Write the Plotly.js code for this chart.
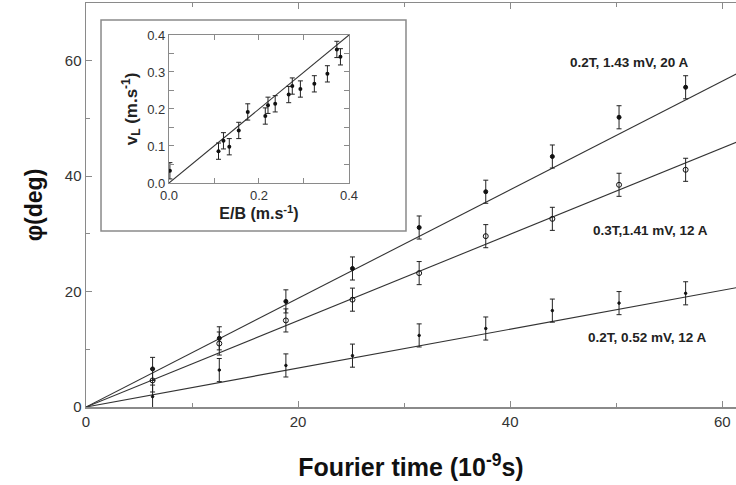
<!DOCTYPE html>
<html>
<head>
<meta charset="utf-8">
<script src="https://cdn.plot.ly/plotly-3.0.1.min.js"></script>
<style>html,body{margin:0;padding:0;background:#fff;}#chart{width:736px;height:485px;}</style>
</head>
<body>
<div id="chart"></div>
<script>
// ---- main plot data ----
var fourierTime = [6.28, 12.57, 18.85, 25.13, 31.42, 37.70, 43.98, 50.27, 56.55];
var phiA = [6.6, 11.9, 18.3, 24.0, 31.1, 37.3, 43.4, 50.2, 55.4];   // 0.2T, 1.43 mV, 20 A
var phiB = [4.6, 11.0, 15.0, 18.6, 23.2, 29.6, 32.6, 38.5, 41.1];   // 0.3T, 1.41 mV, 12 A
var phiC = [1.8, 6.4, 7.2, 8.9, 12.4, 13.6, 16.7, 18.0, 19.7];      // 0.2T, 0.52 mV, 12 A
var phiErr = 2.0;
var fitSlopes = [0.941, 0.748, 0.337];
var fitX = [0, 62];
var seriesLabels = ["0.2T, 1.43 mV, 20 A", "0.3T,1.41 mV, 12 A", "0.2T, 0.52 mV, 12 A"];
var labelX = [51.3, 53.2, 53.0];
var labelY = [59.7, 30.5, 12.1];

// ---- inset data ----
var eOverB = [0.002, 0.110, 0.121, 0.134, 0.155, 0.175, 0.214, 0.220, 0.236, 0.266, 0.274, 0.292, 0.323, 0.352, 0.373, 0.381];
var vL     = [0.033, 0.086, 0.114, 0.098, 0.142, 0.192, 0.181, 0.210, 0.214, 0.239, 0.262, 0.254, 0.268, 0.295, 0.361, 0.341];
var vLErr = 0.022;
var insetFitX = [0, 0.4];
var insetSlope = 1.0;

var mainTicks = [0, 20, 40, 60];
var insetXTicks = [0, 0.2, 0.4];
var insetXTickText = ["0.0", "0.2", "0.4"];
var insetYTicks = [0, 0.1, 0.2, 0.3, 0.4];
var insetYTickText = ["0.0", "0.1", "0.2", "0.3", "0.4"];

var lineCol = '#333';
var axCol = '#8a8a8a';
var fnt = 'Liberation Sans, Arial, sans-serif';

function errTrace(y, sym, size, name) {
  return {
    x: fourierTime, y: y, type: 'scatter', mode: 'markers', name: name,
    marker: {symbol: sym, size: size, color: '#111', line: {color: '#111', width: 1}},
    error_y: {type: 'constant', value: phiErr, color: '#222', thickness: 1, width: 2.5},
    xaxis: 'x', yaxis: 'y', showlegend: false
  };
}
var traces = [];
fitSlopes.forEach(function (s) {
  traces.push({x: fitX, y: fitX.map(function (v) { return v * s; }), type: 'scatter', mode: 'lines',
    line: {color: lineCol, width: 1.1}, xaxis: 'x', yaxis: 'y', showlegend: false, hoverinfo: 'skip'});
});
traces.push(errTrace(phiA, 'circle', 4, 'A'));
traces.push(errTrace(phiB, 'circle-open', 5, 'B'));
traces.push(errTrace(phiC, 'circle', 2.5, 'C'));

traces.push({x: insetFitX, y: insetFitX.map(function (v) { return v * insetSlope; }), type: 'scatter', mode: 'lines',
  line: {color: lineCol, width: 1.1}, xaxis: 'x2', yaxis: 'y2', showlegend: false, hoverinfo: 'skip'});
traces.push({x: eOverB, y: vL, type: 'scatter', mode: 'markers',
  marker: {symbol: 'circle', size: 4, color: '#111'},
  error_y: {type: 'constant', value: vLErr, color: '#222', thickness: 1, width: 2.5},
  xaxis: 'x2', yaxis: 'y2', showlegend: false});

var annotations = seriesLabels.map(function (t, i) {
  return {text: t, x: labelX[i], y: labelY[i], xref: 'x', yref: 'y', showarrow: false,
    font: {family: fnt, size: 13.5, color: '#222', weight: 'bold'}};
});

var layout = {
  width: 736, height: 485,
  margin: {l: 86, r: 0, t: 3, b: 78},
  paper_bgcolor: '#fff', plot_bgcolor: '#fff',
  font: {family: fnt, color: '#333'},
  xaxis: {
    domain: [0, 1], range: [0, 61.3], tickvals: mainTicks,
    ticks: 'inside', ticklen: 6, tickwidth: 1, tickcolor: axCol,
    minor: {dtick: 10, tick0: 0, ticks: 'inside', ticklen: 4, tickcolor: axCol},
    showline: true, linecolor: axCol, linewidth: 1.5, mirror: 'allticks',
    showgrid: false, zeroline: false,
    tickfont: {family: fnt, size: 15, color: '#333'},
    title: {text: 'Fourier time (10<sup>-9</sup>s)', standoff: 30,
      font: {family: fnt, size: 25, color: '#111', weight: 'bold'}}
  },
  yaxis: {
    domain: [0, 1], range: [0, 70], tickvals: mainTicks,
    ticks: 'inside', ticklen: 6, tickwidth: 1, tickcolor: axCol,
    minor: {dtick: 10, tick0: 0, ticks: 'inside', ticklen: 4, tickcolor: axCol},
    showline: true, linecolor: axCol, linewidth: 1.5, mirror: false,
    showgrid: false, zeroline: false,
    tickfont: {family: fnt, size: 15, color: '#333'},
    title: {text: 'φ(deg)', standoff: 16,
      font: {family: fnt, size: 23, color: '#111', weight: 'bold'}}
  },
  xaxis2: {
    domain: [0.1277, 0.4046], anchor: 'y2', range: [0, 0.4],
    tickvals: insetXTicks, ticktext: insetXTickText,
    ticks: 'inside', ticklen: 5, tickcolor: axCol,
    minor: {dtick: 0.1, tick0: 0, ticks: 'inside', ticklen: 5, tickcolor: axCol},
    showline: true, linecolor: axCol, linewidth: 1.2, mirror: 'allticks',
    showgrid: false, zeroline: false,
    tickfont: {family: fnt, size: 13, color: '#333'},
    title: {text: 'E/B (m.s<sup>-1</sup>)', standoff: 4,
      font: {family: fnt, size: 16, color: '#222', weight: 'bold'}}
  },
  yaxis2: {
    domain: [0.5545, 0.9208], anchor: 'x2', range: [0, 0.4],
    tickvals: insetYTicks, ticktext: insetYTickText,
    ticks: 'inside', ticklen: 5, tickcolor: axCol,
    minor: {dtick: 0.05, tick0: 0, ticks: 'inside', ticklen: 5, tickcolor: axCol},
    showline: true, linecolor: axCol, linewidth: 1.2, mirror: 'allticks',
    showgrid: false, zeroline: false,
    tickfont: {family: fnt, size: 13, color: '#333'},
    title: {text: 'v<sub>L</sub> (m.s<sup>-1</sup>)', standoff: 5,
      font: {family: fnt, size: 17, color: '#222', weight: 'bold'}}
  },
  shapes: [{type: 'rect', xref: 'paper', yref: 'paper', x0: 0.0231, x1: 0.4923, y0: 0.4356, y1: 0.958,
    line: {color: axCol, width: 1.5}, fillcolor: '#fff', layer: 'below'}],
  annotations: annotations
};

Plotly.newPlot('chart', traces, layout, {staticPlot: true, displayModeBar: false});
</script>
</body>
</html>
